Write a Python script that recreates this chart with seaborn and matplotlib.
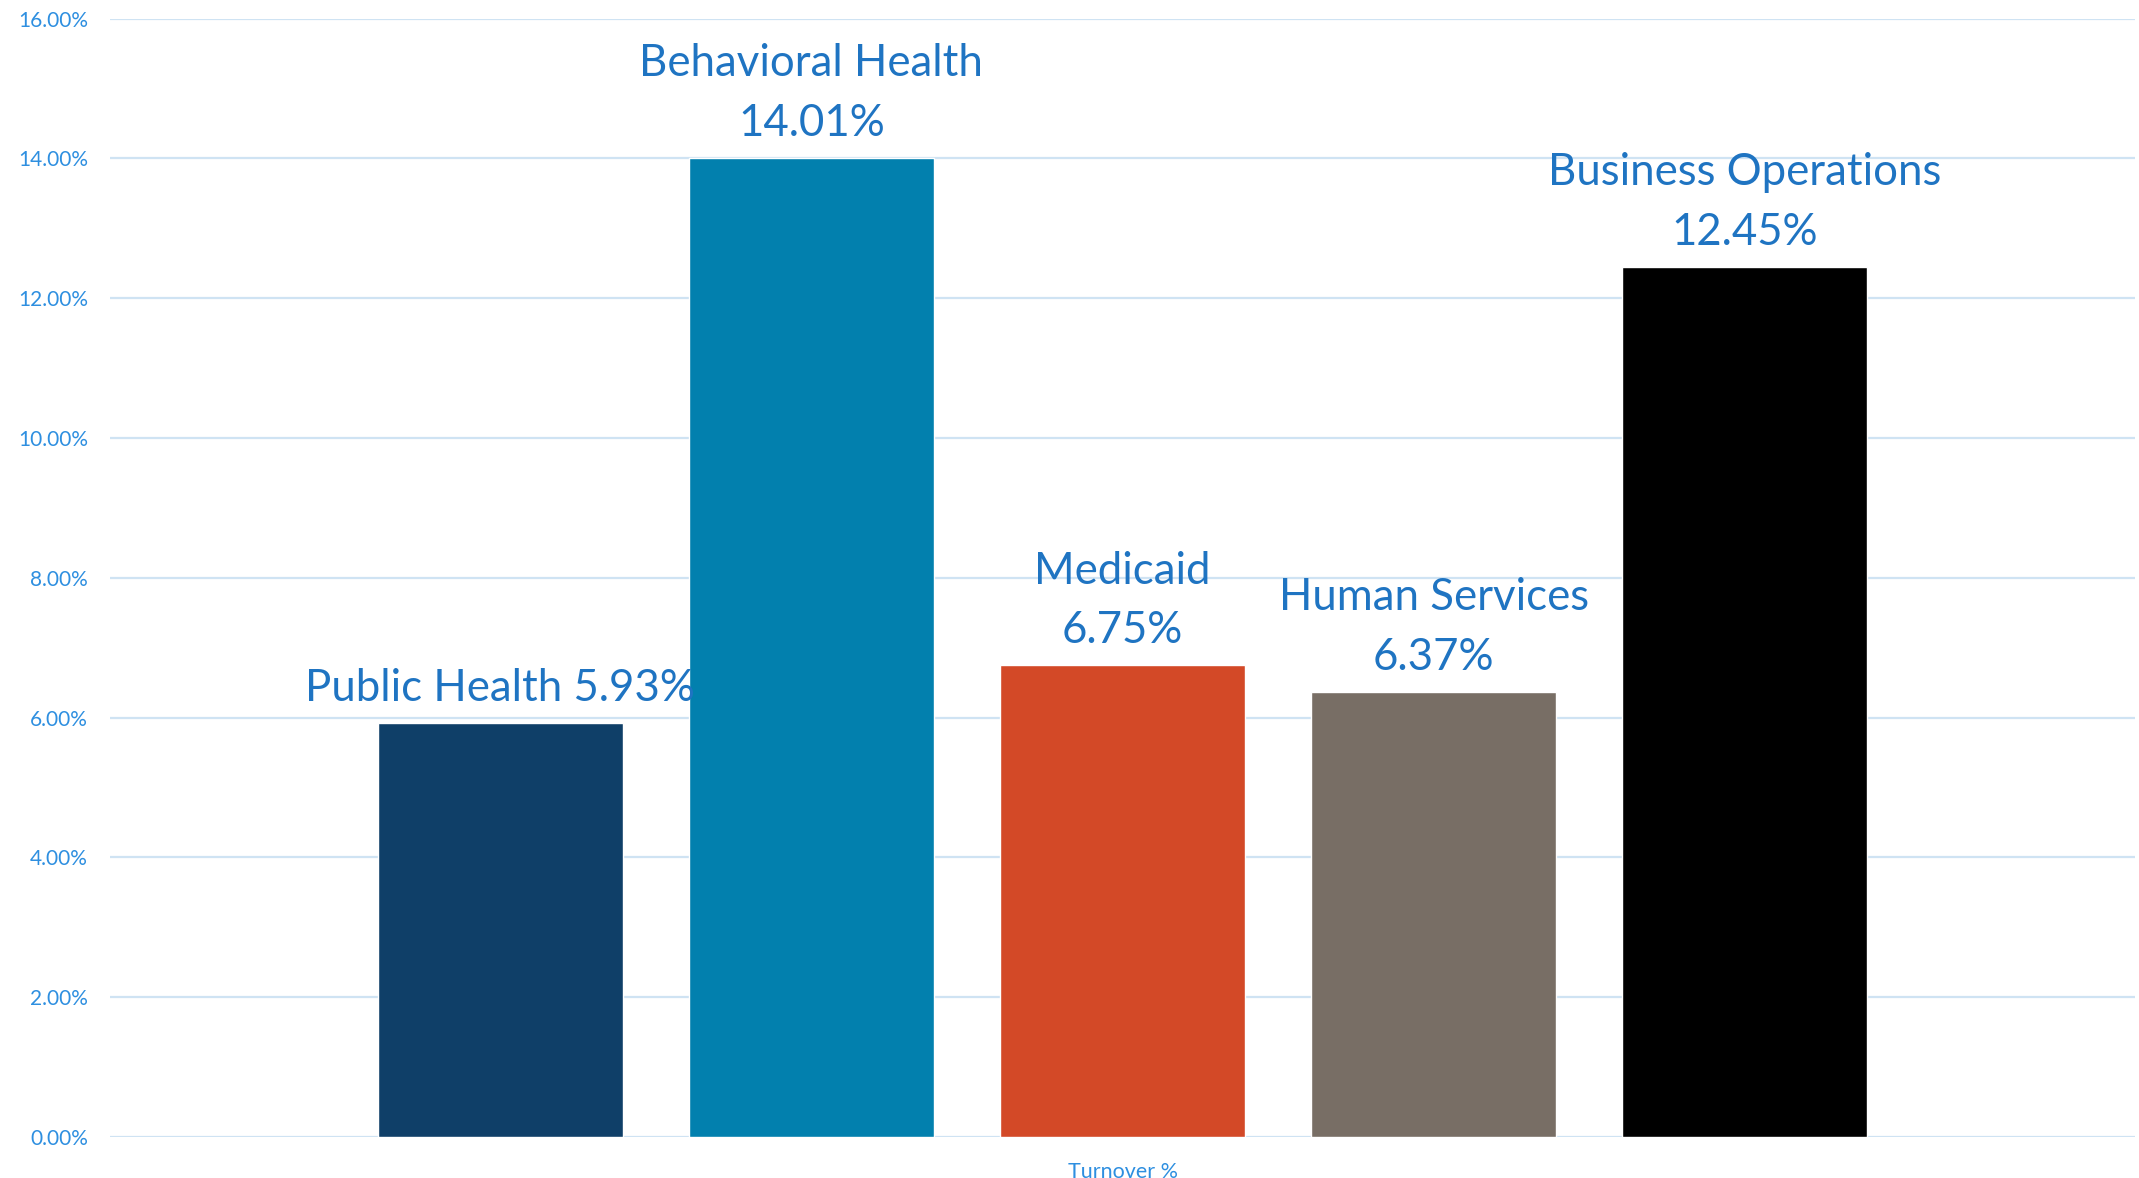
import matplotlib
matplotlib.use("Agg")
import matplotlib.pyplot as plt
import seaborn as sns
import pandas as pd

# Turnover rate by division
divisions = ["Public Health", "Behavioral Health", "Medicaid", "Human Services", "Business Operations"]
turnover = [5.93, 14.01, 6.75, 6.37, 12.45]
bar_labels = ["Public Health 5.93%", "Behavioral Health\n14.01%", "Medicaid\n6.75%",
              "Human Services\n6.37%", "Business Operations\n12.45%"]
bar_colors = ["#0F3F68", "#0280AE", "#D34927", "#786E65", "#000000"]
y_ticks = [0, 2, 4, 6, 8, 10, 12, 14, 16]

df = pd.DataFrame({"division": divisions, "turnover": turnover})

sns.set_theme(style="white")
plt.rcParams["font.family"] = ["Lato", "DejaVu Sans"]

fig = plt.figure(figsize=(21.39, 11.78), dpi=100)
ax = fig.add_axes([110 / 2139, 1 - 1137 / 1178, (2135 - 110) / 2139, (1137 - 18.7) / 1178])

sns.barplot(data=df, x="division", y="turnover", hue="division", palette=bar_colors,
            width=0.788, legend=False, ax=ax, saturation=1, zorder=3)

ax.set_ylim(0, 16)
ax.set_xlim(-1.254, 5.254)
ax.set_yticks(y_ticks)
ax.set_yticklabels([f"{v:.2f}%" for v in y_ticks], color="#2E8FE0", fontsize=15)
ax.tick_params(axis="y", length=0, pad=16)
ax.set_xticks([])
ax.set_xlabel("Turnover %", color="#2E8FE0", fontsize=15.5, labelpad=18)
ax.set_ylabel("")
ax.yaxis.grid(True, color="#CFE3F3", linewidth=1.6, zorder=0)
for s in ax.spines.values():
    s.set_visible(False)

for i, (v, lab) in enumerate(zip(turnover, bar_labels)):
    ax.annotate(lab, xy=(i, v), xytext=(0, 10), textcoords="offset points",
                ha="center", va="bottom", fontsize=31.5, color="#1F74C2",
                linespacing=1.56, zorder=5)

fig.savefig("out.png", dpi=100)
